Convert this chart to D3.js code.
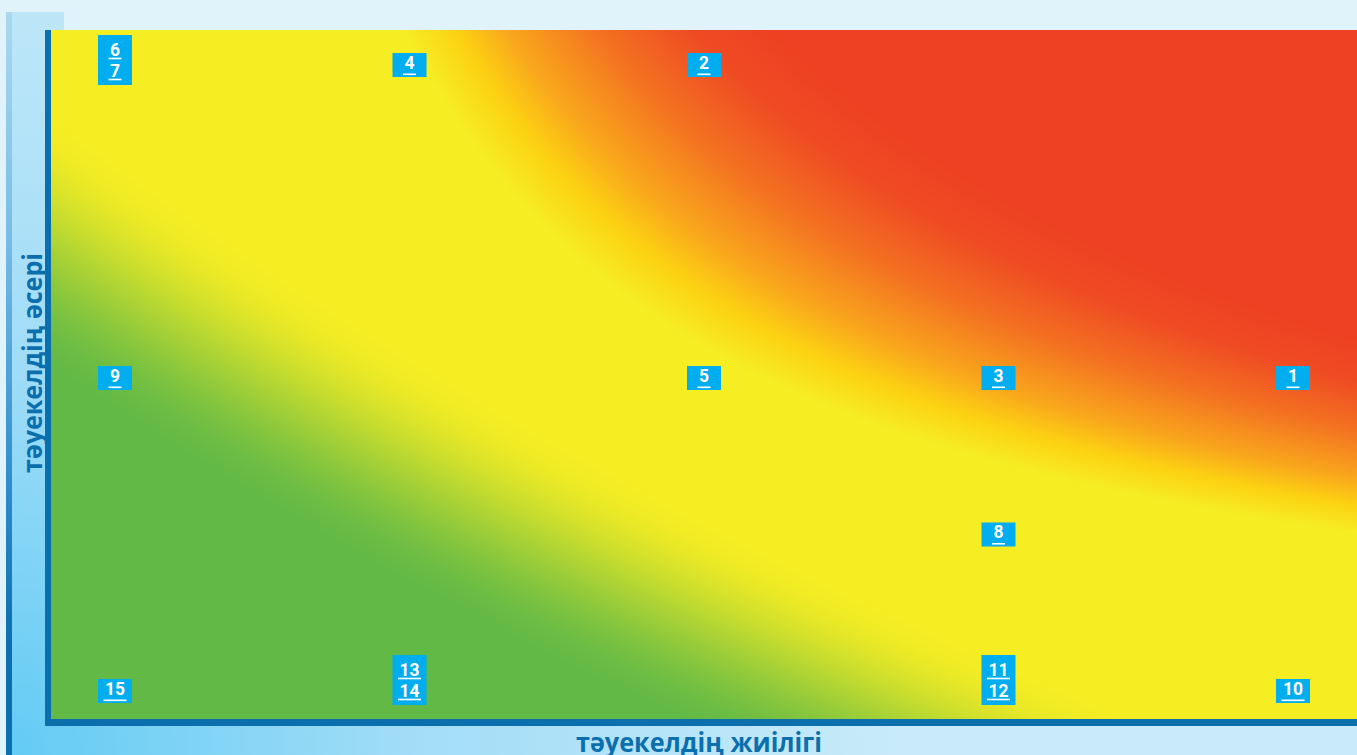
<!DOCTYPE html>
<html>
<head>
<meta charset="utf-8">
<script src="https://cdn.jsdelivr.net/npm/d3@7"></script>
<style>
html,body{margin:0;padding:0;overflow:hidden;background:#e0f3fb;}
svg{display:block;}
</style>
</head>
<body>
<svg id="chart" width="1357" height="755"></svg>
<script>
// ---- data ----
const riskIds   = [1, 2, 3, 4, 5, 6, 7, 8, 9, 10, 11, 12, 13, 14, 15];
const frequency = [5, 3, 4, 2, 3, 1, 1, 4, 1, 5, 4, 4, 2, 2, 1];   // тәуекелдің жиілігі (1..5)
const impact    = [3, 5, 3, 5, 3, 5, 5, 2, 3, 1, 1, 1, 1, 1, 1];   // тәуекелдің әсері (1..5)
const levels    = [1, 2, 3, 4, 5];
const xTitle = "тәуекелдің жиілігі";
const yTitle = "тәуекелдің әсері";

// ---- layout ----
const W = 1357, H = 755;
const plot = {x0: 51, x1: 1357, y0: 30, y1: 719};
const AXIS = "#0b6fae";

const svg = d3.select("#chart");
const defs = svg.append("defs");

// background panels
svg.append("rect").attr("width", W).attr("height", H).attr("fill", "#e0f3fb");
const rg = defs.append("radialGradient").attr("id", "panelGrad")
  .attr("gradientUnits", "userSpaceOnUse").attr("cx", 6).attr("cy", 755).attr("r", 900);
[[0, "#62cbf4"], [0.45, "#a2ddf7"], [1, "#c9ebf9"]].forEach(([o, c]) =>
  rg.append("stop").attr("offset", o).attr("stop-color", c));
svg.append("path").attr("d", "M6,12H64V726H1357V755H6Z").attr("fill", "url(#panelGrad)");
const lg = defs.append("linearGradient").attr("id", "edgeGrad")
  .attr("x1", 0).attr("y1", 0).attr("x2", 0).attr("y2", 1);
[[0, "#aad9ef"], [0.3, "#78bde5"], [0.6, "#3592cd"], [0.85, "#0b6fae"], [1, "#0b6fae"]].forEach(([o, c]) =>
  lg.append("stop").attr("offset", o).attr("stop-color", c));
svg.append("rect").attr("x", 6).attr("y", 12).attr("width", 6).attr("height", H - 12).attr("fill", "url(#edgeGrad)");

// ---- heat field (risk zones) ----
const pw = plot.x1 - plot.x0, ph = plot.y1 - plot.y0;
const green = "#62b946", yellow = "#f6ed23";
const gy = d3.interpolateRgb(green, yellow);
const redRamp = d3.scaleLinear()
  .domain([0.27, 0.31, 0.35, 0.42, 0.49, 0.55])
  .range([yellow, "#fcd112", "#f9a61c", "#f37021", "#ef4b23", "#ee4123"])
  .interpolate(d3.interpolateRgb).clamp(true);
const N = 512;
const lutG = d3.range(N).map(i => { const t = i / (N - 1); return d3.rgb(gy(t * t * (3 - 2 * t))); });
const lutR = d3.range(N).map(i => d3.rgb(redRamp(0.27 + 0.30 * i / (N - 1))));
const canvas = document.createElement("canvas");
canvas.width = pw; canvas.height = ph;
const ctx = canvas.getContext("2d");
const img = ctx.createImageData(pw, ph);
for (let j = 0; j < ph; j++) {
  const v = 1 - (j + 0.5) / ph;
  for (let i = 0; i < pw; i++) {
    const u = (i + 0.5) / pw;
    const g = u / 0.65 + v / 0.688 + 0.6 * u * v;
    let t = (g - 0.72) / 0.56;
    t = t < 0 ? 0 : t > 1 ? 1 : t;
    let c = lutG[Math.round(t * (N - 1))];
    const r = u * v;
    if (r > 0.27) {
      let s = (r - 0.27) / 0.30; s = s > 1 ? 1 : s;
      c = lutR[Math.round(s * (N - 1))];
    }
    const k = (j * pw + i) * 4;
    img.data[k] = c.r; img.data[k + 1] = c.g; img.data[k + 2] = c.b; img.data[k + 3] = 255;
  }
}
ctx.putImageData(img, 0, 0);
svg.append("image").attr("x", plot.x0).attr("y", plot.y0)
  .attr("width", pw).attr("height", ph)
  .attr("preserveAspectRatio", "none")
  .attr("href", canvas.toDataURL());

// axes lines
svg.append("rect").attr("x", 45).attr("y", plot.y0).attr("width", 6).attr("height", 726 - plot.y0).attr("fill", AXIS);
svg.append("rect").attr("x", 45).attr("y", plot.y1).attr("width", W - 45).attr("height", 7).attr("fill", AXIS);

// axis titles
svg.append("text").text(xTitle)
  .attr("x", 699).attr("y", 752).attr("text-anchor", "middle")
  .attr("font-family", "'Open Sans', sans-serif").attr("font-weight", 700)
  .attr("font-size", 27).attr("fill", AXIS)
  .attr("textLength", 246).attr("lengthAdjust", "spacingAndGlyphs");
svg.append("text").text(yTitle)
  .attr("transform", "translate(42,363) rotate(-90)").attr("text-anchor", "middle")
  .attr("font-family", "'Open Sans', sans-serif").attr("font-weight", 700)
  .attr("font-size", 27).attr("fill", AXIS)
  .attr("textLength", 220).attr("lengthAdjust", "spacingAndGlyphs");

// ---- scales & labels ----
const x = d3.scaleLinear().domain(d3.extent(levels)).range([115, 1293]);
const y = d3.scaleLinear().domain(d3.extent(levels)).range([691, 65]);

const cells = d3.groups(riskIds.map((id, i) => ({id, f: frequency[i], im: impact[i]})), d => d.f + "_" + d.im);
const boxW = 34;
cells.forEach(([key, items]) => {
  const cx = x(items[0].f), cy = y(items[0].im);
  const n = items.length;
  const g = svg.append("g");
  let top, h, baselines;
  if (n === 1) {
    top = cy - 12; h = 24; baselines = [top + 15.5];
  } else {
    top = cy - (cy < H / 2 ? 30 : 36); h = 50; baselines = [top + 20.5, top + 41.5];
  }
  g.append("rect").attr("x", cx - boxW / 2).attr("y", top).attr("width", boxW).attr("height", h).attr("fill", "#00aeef");
  items.forEach((d, k) => {
    const tx = g.append("text").text(d.id)
      .attr("x", cx).attr("y", baselines[k]).attr("text-anchor", "middle")
      .attr("font-family", "Roboto, sans-serif").attr("font-weight", 700)
      .attr("font-size", 17.5).attr("fill", "#ffffff");
    const tw = tx.node().getComputedTextLength() + 3;
    const uy = n === 1 ? top + 20.5 : baselines[k] + 2.2;
    g.append("rect").attr("x", cx - tw / 2).attr("y", uy).attr("width", tw).attr("height", 1.6).attr("fill", "#ffffff");
  });
});
</script>
</body>
</html>
